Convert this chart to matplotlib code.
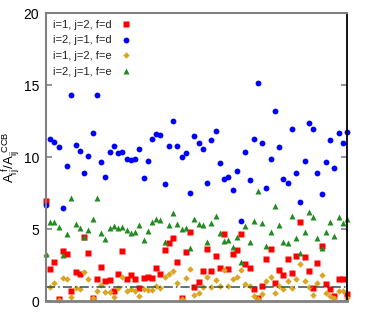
from matplotlib import pyplot as plt
import numpy as np

plt.rcParams['font.family'] = ['Liberation Sans', 'DejaVu Sans']

# values, one per index 0..71
red_d = [6.95, 2.22, 2.75, 0.15, 3.5, 3.28, 0.73, 2.05, 1.93, 4.44, 3.36, 0.22, 1.53, 2.37, 1.41, 1.5, 0.7, 1.93,
         3.48, 1.53, 1.85, 1.53, 0.9, 1.62, 1.71, 1.6, 2.29, 1.87, 3.54, 4.03, 4.42, 2.71, 0.26, 3.4, 4.79, 1.02,
         1.34, 2.09, 3.63, 2.1, 3.15, 2.34, 4.67, 2.24, 3.26, 3.59, 4.67, 2.57, 2.29, 0.88, 0.25, 1.09, 2.96, 3.61,
         1.29, 2.17, 1.8, 2.91, 1.99, 3.15, 5.51, 3.05, 2.13, 0.9, 2.68, 3.84, 1.2, 0.88, 0.37, 1.53, 1.53, 0.48]
blue_d = [6.69, 11.25, 11.08, 10.74, 6.5, 9.37, 14.33, 10.83, 10.45, 8.91, 10.08, 11.67, 14.33, 9.64, 8.61, 10.4,
          10.76, 10.28, 10.37, 9.88, 9.79, 9.88, 10.58, 8.56, 9.77, 11.24, 11.59, 11.55, 8.15, 10.76, 12.49, 10.76,
          10.02, 10.28, 7.5, 11.47, 10.97, 10.56, 8.22, 11.18, 11.8, 9.58, 8.5, 8.66, 7.73, 9.07, 5.58, 10.39, 8.43,
          11.28, 15.13, 10.97, 7.87, 9.86, 13.24, 10.71, 8.5, 8.2, 11.94, 8.89, 6.92, 9.74, 12.36, 11.97, 8.94, 7.45,
          9.7, 11.2, 9.27, 11.69, 10.97, 11.73]
gold_e = [3.25, 1.02, 1.29, 0.09, 1.64, 1.53, 0.32, 0.95, 0.88, 2.06, 1.55, 0.21, 0.72, 1.13, 0.62, 0.62, 0.32, 0.9,
          1.66, 0.72, 0.85, 0.72, 0.39, 0.83, 0.78, 0.78, 1.06, 0.9, 1.66, 1.87, 2.1, 1.29, 0.16, 1.6, 2.27, 0.44,
          0.6, 0.97, 1.71, 0.97, 1.48, 1.09, 2.17, 1.06, 1.53, 1.66, 2.17, 1.18, 1.06, 0.39, 0.16, 0.48, 1.41, 1.69,
          0.6, 1.06, 0.83, 1.41, 0.95, 1.53, 2.59, 1.43, 1.02, 0.41, 1.29, 1.8, 0.55, 0.37, 0.21, 0.72, 0.72, 0.21]
green_e = [3.28, 5.53, 5.53, 5.18, 3.19, 4.65, 7.2, 5.35, 5.12, 4.44, 4.95, 5.74, 7.2, 4.72, 4.3, 5.07, 5.23, 5.12,
           5.18, 4.95, 4.77, 4.84, 5.28, 4.26, 4.88, 5.5, 5.74, 5.65, 4.12, 5.28, 6.11, 5.35, 5.0, 5.12, 3.73, 5.74,
           5.37, 5.28, 4.12, 5.41, 5.95, 4.77, 4.21, 4.26, 3.79, 4.49, 2.75, 5.23, 4.14, 5.58, 7.68, 5.41, 3.84, 4.84,
           6.59, 5.28, 4.14, 4.03, 5.92, 4.4, 3.38, 4.79, 6.18, 5.88, 4.4, 3.72, 4.79, 5.5, 4.56, 5.83, 5.41, 5.71]
labels = ['i=1, j=2, f=d', 'i=2, j=1, f=d', 'i=1, j=2, f=e', 'i=2, j=1, f=e']
ccb_level = 1.0

x = np.arange(len(red_d))

fig = plt.figure(figsize=(3.69, 3.16), dpi=100)
ax = fig.add_axes([0.1247, 0.0465, 0.8157, 0.9115])

ax.plot(x, red_d, 's', color='#ff0000', ms=3.9, mec='none', clip_on=False, label=labels[0])
ax.plot(x, blue_d, 'o', color='#0000ff', ms=4.2, mec='none', clip_on=False, label=labels[1])
ax.plot(x, gold_e, 'D', color='#daa520', ms=3.3, mec='none', clip_on=False, label=labels[2])
ax.plot(x, green_e, '^', color='#228b22', ms=4.2, mec='none', clip_on=False, label=labels[3])
ax.axhline(ccb_level, color='#2f4f4f', lw=1.1, ls=(0, (6, 2, 1, 2)))

ax.set_xlim(0, len(x) - 1)
ax.set_ylim(0, 20)
ax.set_yticks([0, 5, 10, 15, 20])
ax.set_xticks([])
ax.tick_params(axis='y', direction='in', length=4, width=1.2, color='gray', labelsize=10,
               right=True, pad=5)
for s in ['left', 'top', 'bottom']:
    ax.spines[s].set_color('gray')
    ax.spines[s].set_linewidth(1.5)
ax.spines['bottom'].set_linewidth(2)
ax.spines['right'].set_color('black')
ax.spines['right'].set_linewidth(1.3)

ax.set_ylabel(r'$\mathregular{A_{ij}^{\ f}/A_{ij}^{\ CCB}}$', fontsize=9.5)
ax.yaxis.set_label_coords(-0.08, 0.5)

leg = ax.legend(loc='upper left', markerfirst=False, frameon=False, fontsize=8,
                handletextpad=0.9, handlelength=0.8, labelspacing=0.5,
                borderaxespad=0.3, borderpad=0.3, numpoints=1)
for t in leg.get_texts():
    t.set_color('#222222')

fig.savefig('out.png', dpi=100)
plt.close(fig)
